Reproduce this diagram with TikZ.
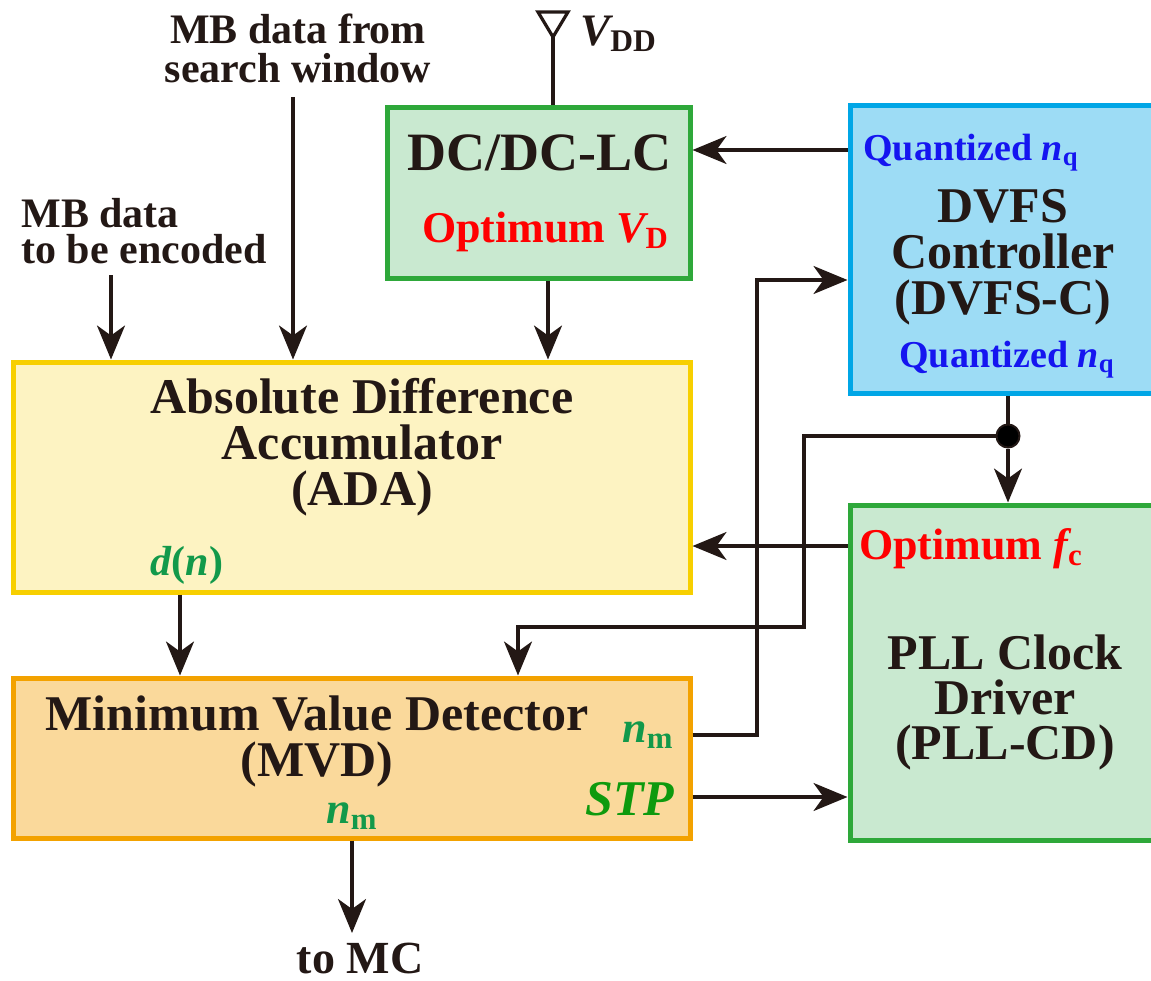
\documentclass[tikz,border=0pt]{standalone}
\usepackage{fontspec}
\setmainfont{Liberation Serif}
\usetikzlibrary{arrows.meta,positioning}

\definecolor{ink}{HTML}{231815}
\definecolor{grnline}{HTML}{2EA83A}
\definecolor{grnfill}{HTML}{C9E9D0}
\definecolor{bluline}{HTML}{00A6E6}
\definecolor{blufill}{HTML}{9DDCF5}
\definecolor{yelline}{HTML}{F7CF00}
\definecolor{yelfill}{HTML}{FDF3C2}
\definecolor{orgline}{HTML}{F3A200}
\definecolor{orgfill}{HTML}{FAD99B}
\definecolor{sigred}{HTML}{FF0000}
\definecolor{sigblue}{HTML}{1515F0}
\definecolor{siggreen}{HTML}{12994A}
\definecolor{stpgreen}{HTML}{0E9A0E}

\begin{document}
\begin{tikzpicture}[x=0.5pt,y=-0.5pt,
    box/.style={draw,line width=2.5pt,inner sep=0pt},
    title/.style={font=\fontsize{25}{23}\selectfont\bfseries,text=ink,align=center,inner sep=0pt,anchor=base},
    lbl/.style={font=\fontsize{21}{19.5}\selectfont\bfseries,text=ink,align=center,inner sep=0pt,anchor=base},
    sig/.style={font=\fontsize{22}{22}\selectfont\bfseries,inner sep=0pt,anchor=base},
    quant/.style={font=\fontsize{19}{19}\selectfont\bfseries,text=sigblue,inner sep=0pt,anchor=base},
    wire/.style={draw=ink,line width=1.6pt},
    arr/.style={wire,-{Stealth[length=17pt,width=14pt,inset=5pt]}},
    dot/.style={circle,fill=black,draw=ink,line width=1pt,minimum size=11.5pt,inner sep=0pt}]
\useasboundingbox (0,0) rectangle (1151,980);

% blocks
\node[box,draw=grnline,fill=grnfill,minimum width=151.5pt,minimum height=85.5pt] (dcdc) at (538.5,192.5) {};
\node[box,draw=bluline,fill=blufill,minimum width=154pt,minimum height=144pt] (dvfs) at (1004,249) {};
\node[box,draw=yelline,fill=yelfill,minimum width=338.5pt,minimum height=115pt] (ada) at (351.5,477) {};
\node[box,draw=orgline,fill=orgfill,minimum width=338.5pt,minimum height=80pt] (mvd) at (351.5,758) {};
\node[box,draw=grnline,fill=grnfill,minimum width=154pt,minimum height=167.5pt] (pll) at (1004,672.5) {};

% inputs and outputs (multi-line texts sit on their last baseline)
\node[lbl] (mbsw) at (298,82) {MB data from\\search window};
\node[lbl,align=left,anchor=base west,font=\fontsize{21}{18}\selectfont\bfseries] (mbenc) at (21,263) {MB data\\to be encoded};
\node[lbl,anchor=base west,font=\fontsize{22.5}{22.5}\selectfont\bfseries] (vddl) at (580,45) {{\itshape V}\textsubscript{DD}};
\node[lbl,font=\fontsize{23}{23}\selectfont\bfseries] (tomc) at (360,973) {to MC};
\coordinate (sw) at (293,97);
\coordinate (enc) at (111,275);
\coordinate (vt) at (553,37);
\coordinate (mc) at (352,933);

% block texts
\node[title,font=\fontsize{27}{27}\selectfont\bfseries] (dcdct) at (539.5,170) {DC/DC-LC};
\node[sig,text=sigred] (vd) at (545.5,242) {Optimum {\itshape V}\textsubscript{D}};
\node[quant] (qtop) at (971,160) {Quantized {\itshape n}\textsubscript{q}};
\node[title,font=\fontsize{25}{23}\selectfont\bfseries] (dvfst) at (1003,314) {DVFS\\Controller\\(DVFS-C)};
\node[quant] (qbot) at (1007,367) {Quantized {\itshape n}\textsubscript{q}};
\node[title] (adat) at (362,505) {Absolute Difference\\Accumulator\\(ADA)};
\node[sig,text=siggreen,font=\fontsize{21}{21}\selectfont\bfseries] (dn) at (187,575) {{\itshape d}({\itshape n})};
\node[sig,text=sigred] (fc) at (971,559) {Optimum {\itshape f}\textsubscript{c}};
\node[title,font=\fontsize{25}{22.5}\selectfont\bfseries] (pllt) at (1005,759) {PLL Clock\\Driver\\(PLL-CD)};
\node[title,font=\fontsize{25}{23}\selectfont\bfseries] (mvdt) at (317,776) {Minimum Value Detector\\(MVD)};
\node[sig,text=siggreen] (nmr) at (648,742) {{\itshape n}\textsubscript{m}};
\node[sig,text=stpgreen,font=\fontsize{25}{25}\selectfont\bfseries\itshape] (stp) at (630,815) {STP};
\node[sig,text=siggreen] (nmb) at (352,823) {{\itshape n}\textsubscript{m}};

% helper points
\coordinate (dcx) at (548,0);
\coordinate (qy) at (0,150);
\coordinate (nmy) at (0,735);
\coordinate (nv) at (757,280);
\coordinate (fy) at (0,546);
\coordinate (sy) at (0,797);
\coordinate (dnx) at (180,0);
\coordinate (fb) at (804,627);
\coordinate (fbx) at (518,0);
\node[dot] (jn) at (1008,436) {};

% supply
\draw[wire,line join=miter] (vt) -- ++(-15,-25) -- ++(30,0) -- cycle;
\draw[wire] (dcdc.north -| vt) -- (vt);

% connectors
\draw[arr] (sw) -- (sw |- ada.north);
\draw[arr] (enc) -- (enc |- ada.north);
\draw[arr] (dcdc.south -| dcx) -- (ada.north -| dcx);
\draw[arr] (dvfs.west |- qy) -- (dcdc.east |- qy);
\draw[arr] (mvd.east |- nmy) -| (nv) -- (dvfs.west |- nv);
\draw[wire] (dvfs.south -| jn) -- (jn);
\draw[arr] (jn) -- (pll.north -| jn);
\draw[arr] (jn) -| (fb) -| (mvd.north -| fbx);
\draw[arr] (pll.west |- fy) -- (ada.east |- fy);
\draw[arr] (mvd.east |- sy) -- (pll.west |- sy);
\draw[arr] (ada.south -| dnx) -- (mvd.north -| dnx);
\draw[arr] (mvd.south -| mc) -- (mc);
\end{tikzpicture}
\end{document}
